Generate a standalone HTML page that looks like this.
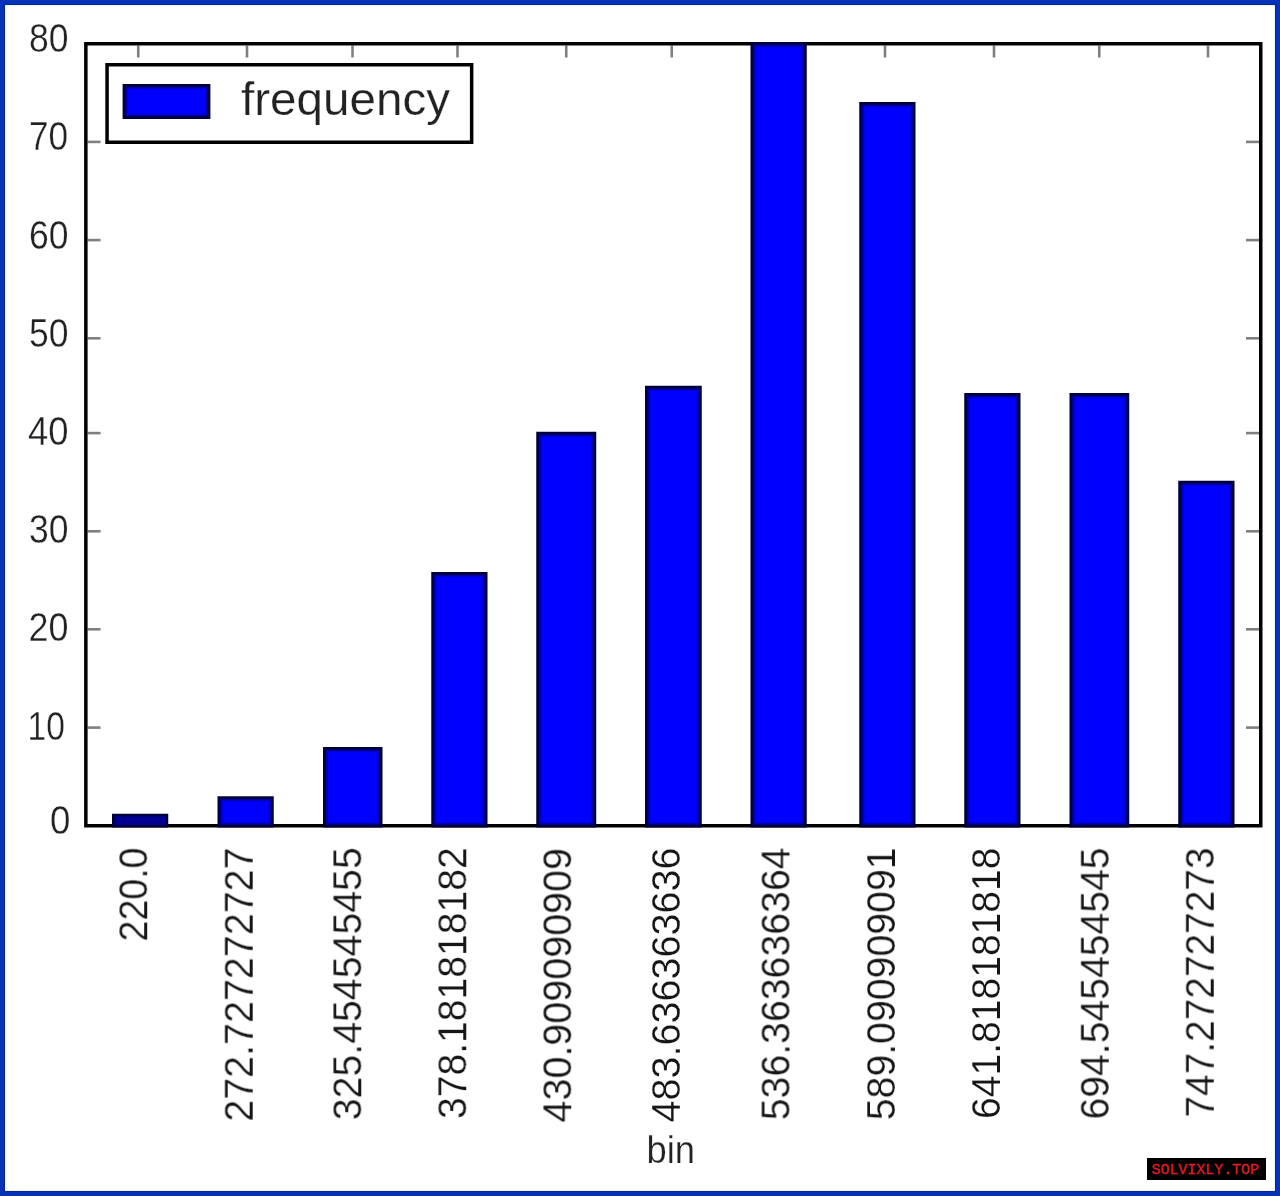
<!DOCTYPE html>
<html><head><meta charset="utf-8"><title>chart</title>
<style>
html,body{margin:0;padding:0;background:#fff;}
body{width:1280px;height:1196px;overflow:hidden;position:relative;}
svg{position:absolute;left:0;top:0;display:block;}
text{font-family:"Liberation Sans",sans-serif;}
.t text{stroke:#fff;stroke-width:0.35px;}
.t text.x{stroke-width:0.25px;}
.m{font-family:"Liberation Mono",monospace;}
</style></head><body>
<svg width="1280" height="1196" viewBox="0 0 1280 1196">
<defs><filter id="soft" x="0" y="0" width="1280" height="1196" filterUnits="userSpaceOnUse"><feGaussianBlur stdDeviation="0.6"/></filter></defs>
<rect x="0" y="0" width="1280" height="1196" fill="#ffffff"/>
<g filter="url(#soft)" class="t">
<g stroke="#808080" stroke-width="2.6">
<line x1="87.6" y1="141.9" x2="100.6" y2="141.9"/><line x1="1259.0" y1="141.9" x2="1246.0" y2="141.9"/>
<line x1="87.6" y1="240.1" x2="100.6" y2="240.1"/><line x1="1259.0" y1="240.1" x2="1246.0" y2="240.1"/>
<line x1="87.6" y1="338.3" x2="100.6" y2="338.3"/><line x1="1259.0" y1="338.3" x2="1246.0" y2="338.3"/>
<line x1="87.6" y1="433.1" x2="100.6" y2="433.1"/><line x1="1259.0" y1="433.1" x2="1246.0" y2="433.1"/>
<line x1="87.6" y1="531.3" x2="100.6" y2="531.3"/><line x1="1259.0" y1="531.3" x2="1246.0" y2="531.3"/>
<line x1="87.6" y1="629.3" x2="100.6" y2="629.3"/><line x1="1259.0" y1="629.3" x2="1246.0" y2="629.3"/>
<line x1="87.6" y1="727.6" x2="100.6" y2="727.6"/><line x1="1259.0" y1="727.6" x2="1246.0" y2="727.6"/>
<line x1="138.25" y1="45.5" x2="138.25" y2="57.5"/><line x1="247.00" y1="45.5" x2="247.00" y2="57.5"/><line x1="352.50" y1="45.5" x2="352.50" y2="57.5"/><line x1="457.50" y1="45.5" x2="457.50" y2="57.5"/><line x1="566.25" y1="45.5" x2="566.25" y2="57.5"/><line x1="671.75" y1="45.5" x2="671.75" y2="57.5"/><line x1="778.00" y1="45.5" x2="778.00" y2="57.5"/><line x1="885.00" y1="45.5" x2="885.00" y2="57.5"/><line x1="994.00" y1="45.5" x2="994.00" y2="57.5"/><line x1="1099.25" y1="45.5" x2="1099.25" y2="57.5"/><line x1="1208.00" y1="45.5" x2="1208.00" y2="57.5"/>
</g>
<rect x="85.85" y="43.75" width="1174.90" height="782.00" fill="none" stroke="#000" stroke-width="3.5"/>
<rect x="112.00" y="813.75" width="56.25" height="13.75" fill="#00003c"/><rect x="114.60" y="816.35" width="51.05" height="8.55" fill="#000092"/>
<rect x="217.50" y="796.25" width="56.25" height="31.25" fill="#00003c"/><rect x="220.20" y="798.95" width="50.85" height="25.85" fill="#00009c"/><rect x="221.70" y="800.45" width="47.85" height="22.85" fill="#0000dc"/><rect x="222.90" y="801.65" width="45.45" height="20.45" fill="#0000ff"/>
<rect x="323.00" y="747.00" width="59.50" height="80.50" fill="#00003c"/><rect x="325.70" y="749.70" width="54.10" height="75.10" fill="#00009c"/><rect x="327.20" y="751.20" width="51.10" height="72.10" fill="#0000dc"/><rect x="328.40" y="752.40" width="48.70" height="69.70" fill="#0000ff"/>
<rect x="431.25" y="572.00" width="56.25" height="255.50" fill="#00003c"/><rect x="433.95" y="574.70" width="50.85" height="250.10" fill="#00009c"/><rect x="435.45" y="576.20" width="47.85" height="247.10" fill="#0000dc"/><rect x="436.65" y="577.40" width="45.45" height="244.70" fill="#0000ff"/>
<rect x="536.25" y="431.75" width="60.00" height="395.75" fill="#00003c"/><rect x="538.95" y="434.45" width="54.60" height="390.35" fill="#00009c"/><rect x="540.45" y="435.95" width="51.60" height="387.35" fill="#0000dc"/><rect x="541.65" y="437.15" width="49.20" height="384.95" fill="#0000ff"/>
<rect x="645.00" y="385.75" width="56.75" height="441.75" fill="#00003c"/><rect x="647.70" y="388.45" width="51.35" height="436.35" fill="#00009c"/><rect x="649.20" y="389.95" width="48.35" height="433.35" fill="#0000dc"/><rect x="650.40" y="391.15" width="45.95" height="430.95" fill="#0000ff"/>
<rect x="750.50" y="42.00" width="56.25" height="785.50" fill="#00003c"/><rect x="753.20" y="44.70" width="50.85" height="780.10" fill="#00009c"/><rect x="754.70" y="46.20" width="47.85" height="777.10" fill="#0000dc"/><rect x="755.90" y="47.40" width="45.45" height="774.70" fill="#0000ff"/>
<rect x="859.25" y="102.00" width="56.25" height="725.50" fill="#00003c"/><rect x="861.95" y="104.70" width="50.85" height="720.10" fill="#00009c"/><rect x="863.45" y="106.20" width="47.85" height="717.10" fill="#0000dc"/><rect x="864.65" y="107.40" width="45.45" height="714.70" fill="#0000ff"/>
<rect x="964.25" y="393.00" width="56.25" height="434.50" fill="#00003c"/><rect x="966.95" y="395.70" width="50.85" height="429.10" fill="#00009c"/><rect x="968.45" y="397.20" width="47.85" height="426.10" fill="#0000dc"/><rect x="969.65" y="398.40" width="45.45" height="423.70" fill="#0000ff"/>
<rect x="1069.50" y="393.00" width="59.75" height="434.50" fill="#00003c"/><rect x="1072.20" y="395.70" width="54.35" height="429.10" fill="#00009c"/><rect x="1073.70" y="397.20" width="51.35" height="426.10" fill="#0000dc"/><rect x="1074.90" y="398.40" width="48.95" height="423.70" fill="#0000ff"/>
<rect x="1178.25" y="480.75" width="56.25" height="346.75" fill="#00003c"/><rect x="1180.95" y="483.45" width="50.85" height="341.35" fill="#00009c"/><rect x="1182.45" y="484.95" width="47.85" height="338.35" fill="#0000dc"/><rect x="1183.65" y="486.15" width="45.45" height="335.95" fill="#0000ff"/>
<rect x="107.05" y="64.75" width="364.60" height="77.50" fill="#fff" stroke="#000" stroke-width="3.5"/>
<rect x="122.60" y="84.00" width="87.80" height="35.00" fill="#00003c"/><rect x="125.30" y="86.70" width="82.40" height="29.60" fill="#00009c"/><rect x="126.80" y="88.20" width="79.40" height="26.60" fill="#0000dc"/><rect x="128.00" y="89.40" width="77.00" height="24.20" fill="#0000ff"/>
<text class="x" x="241" y="115.2" font-size="47" fill="#202020" textLength="209" lengthAdjust="spacingAndGlyphs">frequency</text>
<text x="29.0" y="52.1" font-size="40" fill="#202020" textLength="39.5" lengthAdjust="spacingAndGlyphs">80</text>
<text x="29.0" y="150.2" font-size="40" fill="#202020" textLength="39.2" lengthAdjust="spacingAndGlyphs">70</text>
<text x="29.0" y="248.5" font-size="40" fill="#202020" textLength="39.5" lengthAdjust="spacingAndGlyphs">60</text>
<text x="29.0" y="346.9" font-size="40" fill="#202020" textLength="39.5" lengthAdjust="spacingAndGlyphs">50</text>
<text x="28.0" y="444.7" font-size="40" fill="#202020" textLength="40.5" lengthAdjust="spacingAndGlyphs">40</text>
<text x="29.0" y="543.2" font-size="40" fill="#202020" textLength="39.5" lengthAdjust="spacingAndGlyphs">30</text>
<text x="28.5" y="641.1" font-size="40" fill="#202020" textLength="40.0" lengthAdjust="spacingAndGlyphs">20</text>
<text x="27.5" y="739.5" font-size="40" fill="#202020" textLength="37.3" lengthAdjust="spacingAndGlyphs">10</text>
<text x="50.0" y="834.4" font-size="40" fill="#202020" textLength="20.4" lengthAdjust="spacingAndGlyphs">0</text>
<text class="x" transform="translate(147.20,941.50) rotate(-90)" font-size="40" fill="#141414" textLength="94.0" lengthAdjust="spacingAndGlyphs">220.0</text>
<text class="x" transform="translate(252.70,1121.70) rotate(-90)" font-size="40" fill="#141414" textLength="274.2" lengthAdjust="spacingAndGlyphs">272.727272727</text>
<text class="x" transform="translate(361.25,1120.25) rotate(-90)" font-size="40" fill="#141414" textLength="273.0" lengthAdjust="spacingAndGlyphs">325.454545455</text>
<text class="x" transform="translate(466.25,1119.00) rotate(-90)" font-size="40" fill="#141414" textLength="271.8" lengthAdjust="spacingAndGlyphs">378.181818182</text>
<text class="x" transform="translate(571.25,1122.50) rotate(-90)" font-size="40" fill="#141414" textLength="274.5" lengthAdjust="spacingAndGlyphs">430.909090909</text>
<text class="x" transform="translate(680.00,1122.50) rotate(-90)" font-size="40" fill="#141414" textLength="275.0" lengthAdjust="spacingAndGlyphs">483.636363636</text>
<text class="x" transform="translate(789.50,1120.25) rotate(-90)" font-size="40" fill="#141414" textLength="272.8" lengthAdjust="spacingAndGlyphs">536.363636364</text>
<text class="x" transform="translate(895.00,1120.25) rotate(-90)" font-size="40" fill="#141414" textLength="272.8" lengthAdjust="spacingAndGlyphs">589.090909091</text>
<text class="x" transform="translate(1000.00,1119.00) rotate(-90)" font-size="40" fill="#141414" textLength="271.5" lengthAdjust="spacingAndGlyphs">641.818181818</text>
<text class="x" transform="translate(1108.75,1119.50) rotate(-90)" font-size="40" fill="#141414" textLength="272.0" lengthAdjust="spacingAndGlyphs">694.545454545</text>
<text class="x" transform="translate(1213.75,1117.50) rotate(-90)" font-size="40" fill="#141414" textLength="270.0" lengthAdjust="spacingAndGlyphs">747.272727273</text>
<text class="x" x="646.5" y="1163.4" font-size="38" fill="#202020" textLength="48.5" lengthAdjust="spacingAndGlyphs">bin</text>
</g>
<rect x="1147" y="1158" width="119" height="22" fill="#000"/>
<text class="m" x="1151.5" y="1174" font-size="15" fill="#e01c24" stroke="#e01c24" stroke-width="0.3" textLength="107.5" lengthAdjust="spacingAndGlyphs">SOLVIXLY.TOP</text>
<rect x="2.5" y="2.5" width="1275" height="1191" fill="none" stroke="#0632b7" stroke-width="5"/>
<rect x="4.6" y="4.6" width="1270.8" height="1186.8" fill="none" stroke="#03278a" stroke-width="0.9"/>
</svg>
</body></html>
